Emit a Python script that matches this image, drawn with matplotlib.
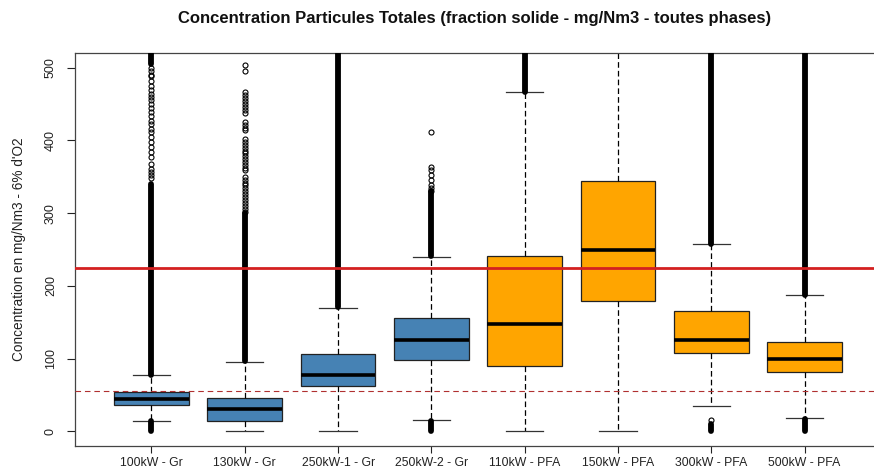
import matplotlib
matplotlib.use("Agg")
import matplotlib.pyplot as plt

plt.rcParams['font.family'] = ['Liberation Sans', 'DejaVu Sans']

categories = ["100kW - Gr", "130kW - Gr", "250kW-1 - Gr", "250kW-2 - Gr",
              "110kW - PFA", "150kW - PFA", "300kW - PFA", "500kW - PFA"]
group = ["Gr", "Gr", "Gr", "Gr", "PFA", "PFA", "PFA", "PFA"]
q1 = [37, 14, 62, 98, 90, 179, 108, 81]
median = [44, 31, 77, 126, 148, 250, 126, 100]
q3 = [54, 46, 106, 156, 241, 344, 166, 123]
whisker_low = [15, 0, 0, 16, 0, 0, 35, 18]
whisker_high = [77, 96, 170, 240, 466, 600, 257, 187]

# outliers so dense that the circles merge into a solid column (low, high)
dense_outliers = [
    [(0, 14), (78, 340), (505, 530)],
    [(97, 300)],
    [(171, 530)],
    [(0, 14), (241, 331)],
    [(467, 530)],
    [],
    [(0, 10), (258, 530)],
    [(0, 17), (188, 530)],
]
# separately visible outlier circles
sparse_outliers = [
    [348, 352, 356, 361, 368, 377, 384, 391, 398, 405, 411, 416, 422, 427,
     434, 439, 445, 450, 455, 459, 464, 469, 475, 481, 488, 490, 495, 500],
    [302, 306, 310, 314, 318, 322, 326, 330, 334, 338, 342, 346, 350, 359,
     362, 366, 370, 374, 378, 382, 386, 390, 394, 398, 402, 414, 417, 421,
     425, 437, 441, 446, 450, 454, 458, 462, 466, 495, 504],
    [],
    [331, 335, 338, 345, 352, 359, 363, 412],
    [],
    [],
    [16],
    [],
]
group_colors = {"Gr": "#4682B4", "PFA": "#FFA500"}
limit_high = 225
limit_low = 55

W, H = 874, 468
fig = plt.figure(figsize=(W / 100, H / 100), dpi=100)
ax = fig.add_axes([75 / W, (H - 446) / H, 806 / W, 393 / H])

stats = []
for i, name in enumerate(categories):
    stats.append(dict(label=name, q1=q1[i], med=median[i], q3=q3[i],
                      whislo=whisker_low[i], whishi=whisker_high[i],
                      fliers=sparse_outliers[i]))

pos = list(range(1, len(categories) + 1))
bp = ax.bxp(stats, positions=pos, widths=0.8, patch_artist=True,
            showfliers=True,
            boxprops=dict(edgecolor="#222222", linewidth=0.9),
            medianprops=dict(color="black", linewidth=2.6, solid_capstyle="butt"),
            whiskerprops=dict(color="black", linewidth=0.9, linestyle=(0, (4.5, 2.5))),
            capprops=dict(color="#333333", linewidth=0.9),
            capwidths=0.4,
            flierprops=dict(marker="o", markersize=3.6, markerfacecolor="none",
                            markeredgecolor="black", markeredgewidth=0.8,
                            linestyle="none"))
for patch, g in zip(bp["boxes"], group):
    patch.set_facecolor(group_colors[g])

for i, bands in enumerate(dense_outliers):
    for lo, hi in bands:
        ax.vlines(pos[i], lo, hi, colors="black", linewidth=4.2,
                  capstyle="round", zorder=3)

ax.axhline(limit_high, color="#D42020", linewidth=2.0, zorder=5)
ax.axhline(limit_low, color="#B03030", linewidth=0.8,
           linestyle=(0, (5, 3.5)), zorder=5)

ax.set_xlim(0.18, 8.82)
ax.set_ylim(-20, 520)
ax.set_yticks([0, 100, 200, 300, 400, 500])
ax.set_xticks(pos)
ax.set_xticklabels(categories)
ax.tick_params(axis="y", labelrotation=90, length=6, width=0.8, pad=7,
               labelsize=9, colors="#222222")
ax.tick_params(axis="x", length=5, width=0.8, pad=3, labelsize=8.8,
               colors="#222222")
for lab in ax.get_yticklabels():
    lab.set_va("center")
for s in ax.spines.values():
    s.set_color("#444444")
    s.set_linewidth(0.9)

ax.set_ylabel("Concentration en mg/Nm3 - 6% d'O2", fontsize=9.8,
              color="#222222", va="center")
ax.yaxis.set_label_coords((19 - 75) / 806, 0.5)
fig.text(475 / W, 1 - 19 / H,
         "Concentration Particules Totales (fraction solide - mg/Nm3 - toutes phases)",
         ha="center", va="center", fontsize=12, fontweight="bold", color="#111111")

fig.savefig("out.png", dpi=100)
